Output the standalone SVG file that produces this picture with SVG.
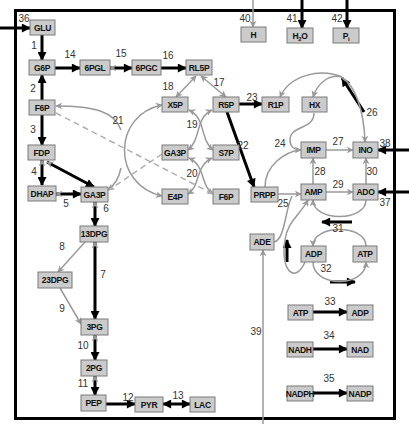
<svg xmlns="http://www.w3.org/2000/svg" width="409" height="429" viewBox="0 0 409 429">
<style>
.n rect{fill:#cbcbcb;stroke:#7a7a7a;stroke-width:1}
.n text{font-family:"Liberation Sans",Arial,sans-serif;font-weight:bold;font-size:8.5px;fill:#111;text-anchor:middle;letter-spacing:-0.3px}
.k{fill:none;stroke:#000;stroke-width:3}
.g{fill:none;stroke:#9a9a9a;stroke-width:1.5}
.d{fill:none;stroke:#b0b0b0;stroke-width:1.5;stroke-dasharray:6,4}
.l{font-family:"Liberation Sans",Arial,sans-serif;font-size:10px;fill:#333;text-anchor:middle}
</style>
<defs>
<marker id="ab" viewBox="0 0 10 10" refX="9" refY="5" markerWidth="10" markerHeight="9" markerUnits="userSpaceOnUse" orient="auto-start-reverse"><path d="M0,0 L10,5 L0,10 z" fill="#000"/></marker>
<marker id="ag" viewBox="0 0 10 10" refX="9" refY="5" markerWidth="7" markerHeight="7" markerUnits="userSpaceOnUse" orient="auto-start-reverse"><path d="M0,0 L10,5 L0,10 L3,5 z" fill="#999"/></marker>
</defs>
<rect x="15.5" y="10.5" width="379" height="408" fill="none" stroke="#000" stroke-width="3"/>
<g id="connectors">
<path class="k" d="M0,28 L30,28" marker-end="url(#ab)"/>
<path class="k" d="M42,35 L42,60" marker-end="url(#ab)"/>
<path class="k" d="M55,68 L80,68" marker-end="url(#ab)"/>
<path class="k" d="M110,68 L132,68" marker-end="url(#ab)" marker-start="url(#ag)"/>
<path class="k" d="M161,68 L186,68" marker-end="url(#ab)"/>
<path class="k" d="M42,100 L42,75" marker-end="url(#ab)"/>
<path class="k" d="M42,115 L42,145" marker-end="url(#ab)"/>
<path class="k" d="M42,160 L42,185" marker-end="url(#ab)" marker-start="url(#ag)"/>
<path class="k" d="M47,162 L94,187" marker-end="url(#ab)" marker-start="url(#ag)"/>
<path class="k" d="M56,194 L81,194" marker-end="url(#ab)" marker-start="url(#ag)"/>
<path class="k" d="M95,202 L95,226" marker-end="url(#ab)" marker-start="url(#ag)"/>
<path class="k" d="M95,242 L95,319" marker-end="url(#ab)" marker-start="url(#ag)"/>
<path class="k" d="M95,335 L95,360" marker-end="url(#ab)" marker-start="url(#ag)"/>
<path class="k" d="M95,376 L95,395" marker-end="url(#ab)" marker-start="url(#ag)"/>
<path class="k" d="M106,404 L135,404" marker-end="url(#ab)"/>
<path class="k" d="M163,404 L190,404" marker-end="url(#ab)" marker-start="url(#ab)"/>
<path class="k" d="M227,112 L254,187" marker-end="url(#ab)"/>
<path class="k" d="M239,104 L262,104" marker-end="url(#ab)"/>
<path class="k" d="M313,312 L347,312" marker-end="url(#ab)"/>
<path class="k" d="M313,349 L347,349" marker-end="url(#ab)"/>
<path class="k" d="M313,393 L347,393" marker-end="url(#ab)"/>
<path class="k" d="M302,0 L302,28" marker-end="url(#ab)"/>
<path class="k" d="M347,0 L347,28" marker-end="url(#ab)"/>
<path class="k" d="M409,192 L378,192" marker-end="url(#ab)"/>
<path class="k" d="M409,150 L378,150" marker-end="url(#ab)"/>
<path class="k" d="M364,112 L342,78" marker-end="url(#ab)"/>
<path class="k" d="M352,222 L322,222" marker-end="url(#ab)"/>
<path class="k" d="M330,282 L355,282" marker-end="url(#ab)"/>
<path class="k" d="M287,262 L287,240" marker-end="url(#ab)"/>
<path class="g" d="M253,0 L253,27" marker-end="url(#ag)"/>
<path class="g" d="M201,76 L226,97" marker-end="url(#ag)" marker-start="url(#ag)"/>
<path class="g" d="M196,76 L176,97" marker-end="url(#ag)" marker-start="url(#ag)"/>
<path class="g" d="M189,110 C206,118 200,140 213,150" marker-end="url(#ag)" marker-start="url(#ag)"/>
<path class="g" d="M212,110 C195,118 201,140 188,150" marker-end="url(#ag)" marker-start="url(#ag)"/>
<path class="g" d="M189,158 C206,166 200,185 213,194" marker-end="url(#ag)" marker-start="url(#ag)"/>
<path class="g" d="M212,158 C195,166 201,185 188,194" marker-end="url(#ag)" marker-start="url(#ag)"/>
<path class="g" d="M162,105 C112,115 112,185 162,196" marker-end="url(#ag)" marker-start="url(#ag)"/>
<path class="g" d="M56,106 C95,106 115,112 121,130" marker-start="url(#ag)"/>
<path class="g" d="M108,190 C115,185 119,178 121,168" marker-start="url(#ag)"/>
<path class="d" d="M56,113 L213,194"/>
<path class="d" d="M162,154 L109,190"/>
<path class="g" d="M85,242 L58,272" marker-end="url(#ag)"/>
<path class="g" d="M60,288 L81,324" marker-end="url(#ag)"/>
<path class="g" d="M314,113 C314,130 290,125 290,140 C290,147 295,150 301,150" marker-end="url(#ag)"/>
<path class="g" d="M265,187 C265,165 285,152 300,150"/>
<path class="g" d="M278,194 L301,194" marker-end="url(#ag)"/>
<path class="g" d="M274,242 C285,240 285,210 292,196"/>
<path class="g" d="M342,77 C320,68 290,75 280,97" marker-end="url(#ag)"/>
<path class="g" d="M342,77 C330,74 318,82 313,97" marker-end="url(#ag)"/>
<path class="g" d="M342,78 C355,85 364,110 365,142" marker-end="url(#ag)"/>
<path class="g" d="M326,150 L353,150" marker-end="url(#ag)"/>
<path class="g" d="M313,184 L313,158" marker-end="url(#ag)"/>
<path class="g" d="M326,192 L353,192" marker-end="url(#ag)"/>
<path class="g" d="M366,184 L366,158" marker-end="url(#ag)"/>
<path class="g" d="M366,200 C366,222 313,222 313,200" marker-end="url(#ag)"/>
<path class="g" d="M366,246 C366,224 313,224 313,246" marker-end="url(#ag)"/>
<path class="g" d="M313,262 C313,288 366,288 366,262" marker-end="url(#ag)"/>
<path class="g" d="M305,262 C295,285 280,270 285,240 C287,222 300,215 308,200" marker-end="url(#ag)"/>
<path class="g" d="M263,424 L263,250" marker-end="url(#ag)"/>
</g>
<g id="labels">
<text class="l" x="24" y="22">36</text>
<text class="l" x="34" y="49">1</text>
<text class="l" x="70" y="58">14</text>
<text class="l" x="121" y="57">15</text>
<text class="l" x="168" y="59">16</text>
<text class="l" x="245" y="22">40</text>
<text class="l" x="292" y="22">41</text>
<text class="l" x="337" y="22">42</text>
<text class="l" x="219" y="86">17</text>
<text class="l" x="168" y="90">18</text>
<text class="l" x="252" y="101">23</text>
<text class="l" x="372" y="116">26</text>
<text class="l" x="33" y="92">2</text>
<text class="l" x="33" y="133">3</text>
<text class="l" x="118" y="124">21</text>
<text class="l" x="192" y="128">19</text>
<text class="l" x="243" y="149">22</text>
<text class="l" x="280" y="147">24</text>
<text class="l" x="338" y="145">27</text>
<text class="l" x="385" y="147">38</text>
<text class="l" x="320" y="175">28</text>
<text class="l" x="372" y="175">30</text>
<text class="l" x="192" y="177">20</text>
<text class="l" x="34" y="175">4</text>
<text class="l" x="66" y="207">5</text>
<text class="l" x="106" y="212">6</text>
<text class="l" x="283" y="207">25</text>
<text class="l" x="338" y="188">29</text>
<text class="l" x="385" y="206">37</text>
<text class="l" x="338" y="232">31</text>
<text class="l" x="62" y="250">8</text>
<text class="l" x="326" y="272">32</text>
<text class="l" x="103" y="278">7</text>
<text class="l" x="62" y="312">9</text>
<text class="l" x="330" y="305">33</text>
<text class="l" x="256" y="335">39</text>
<text class="l" x="329" y="339">34</text>
<text class="l" x="329" y="382">35</text>
<text class="l" x="83" y="349">10</text>
<text class="l" x="83" y="387">11</text>
<text class="l" x="128" y="401">12</text>
<text class="l" x="178" y="399">13</text>
</g>
<g id="GLU" class="n"><rect x="30" y="20" width="25" height="15"/><text x="42.5" y="30.5">GLU</text></g>
<g id="G6P" class="n"><rect x="29" y="60" width="26" height="15"/><text x="42" y="70.5">G6P</text></g>
<g id="PGL6" class="n"><rect x="80" y="60" width="30" height="15"/><text x="95" y="70.5">6PGL</text></g>
<g id="PGC6" class="n"><rect x="132" y="60" width="29" height="15"/><text x="146.5" y="70.5">6PGC</text></g>
<g id="RL5P" class="n"><rect x="186" y="60" width="26" height="15"/><text x="199" y="70.5">RL5P</text></g>
<g id="H" class="n"><rect x="241" y="27" width="25" height="15"/><text x="253.5" y="37.5">H</text></g>
<g id="H2O" class="n"><rect x="287" y="28" width="26" height="15"/><text x="300" y="38.5">H<tspan font-size="6" dy="2">2</tspan><tspan dy="-2">O</tspan></text></g>
<g id="Pi" class="n"><rect x="333" y="28" width="26" height="15"/><text x="346" y="38.5">P<tspan font-size="6" dy="2">i</tspan></text></g>
<g id="X5P" class="n"><rect x="162" y="97" width="26" height="15"/><text x="175" y="107.5">X5P</text></g>
<g id="R5P" class="n"><rect x="213" y="97" width="26" height="15"/><text x="226" y="107.5">R5P</text></g>
<g id="R1P" class="n"><rect x="262" y="97" width="27" height="15"/><text x="275.5" y="107.5">R1P</text></g>
<g id="HX" class="n"><rect x="302" y="97" width="25" height="15"/><text x="314.5" y="107.5">HX</text></g>
<g id="F6P" class="n"><rect x="29" y="100" width="26" height="15"/><text x="42" y="110.5">F6P</text></g>
<g id="FDP" class="n"><rect x="28" y="145" width="27" height="15"/><text x="41.5" y="155.5">FDP</text></g>
<g id="GA3P_m" class="n"><rect x="162" y="145" width="26" height="15"/><text x="175" y="155.5">GA3P</text></g>
<g id="S7P" class="n"><rect x="213" y="145" width="26" height="15"/><text x="226" y="155.5">S7P</text></g>
<g id="IMP" class="n"><rect x="301" y="142" width="25" height="16"/><text x="313.5" y="153">IMP</text></g>
<g id="INO" class="n"><rect x="353" y="142" width="25" height="16"/><text x="365.5" y="153">INO</text></g>
<g id="DHAP" class="n"><rect x="28" y="186" width="28" height="15"/><text x="42" y="196.5">DHAP</text></g>
<g id="GA3P" class="n"><rect x="81" y="187" width="27" height="15"/><text x="94.5" y="197.5">GA3P</text></g>
<g id="E4P" class="n"><rect x="162" y="189" width="26" height="15"/><text x="175" y="199.5">E4P</text></g>
<g id="F6P_m" class="n"><rect x="213" y="189" width="26" height="15"/><text x="226" y="199.5">F6P</text></g>
<g id="PRPP" class="n"><rect x="251" y="187" width="27" height="15"/><text x="264.5" y="197.5">PRPP</text></g>
<g id="AMP" class="n"><rect x="301" y="184" width="25" height="16"/><text x="313.5" y="195">AMP</text></g>
<g id="ADO" class="n"><rect x="353" y="184" width="25" height="16"/><text x="365.5" y="195">ADO</text></g>
<g id="DPG13" class="n"><rect x="80" y="226" width="28" height="16"/><text x="94" y="237">13DPG</text></g>
<g id="ADE" class="n"><rect x="250" y="234" width="24" height="16"/><text x="262" y="245">ADE</text></g>
<g id="ADP" class="n"><rect x="301" y="246" width="25" height="16"/><text x="313.5" y="257">ADP</text></g>
<g id="ATP" class="n"><rect x="353" y="246" width="24" height="16"/><text x="365" y="257">ATP</text></g>
<g id="DPG23" class="n"><rect x="38" y="272" width="34" height="16"/><text x="55" y="283">23DPG</text></g>
<g id="ATP2" class="n"><rect x="288" y="305" width="25" height="15"/><text x="300.5" y="315.5">ATP</text></g>
<g id="ADP2" class="n"><rect x="347" y="305" width="26" height="15"/><text x="360" y="315.5">ADP</text></g>
<g id="PG3" class="n"><rect x="81" y="319" width="27" height="16"/><text x="94.5" y="330">3PG</text></g>
<g id="NADH" class="n"><rect x="287" y="342" width="26" height="15"/><text x="300" y="352.5">NADH</text></g>
<g id="NAD" class="n"><rect x="347" y="342" width="26" height="15"/><text x="360" y="352.5">NAD</text></g>
<g id="PG2" class="n"><rect x="81" y="360" width="26" height="16"/><text x="94" y="371">2PG</text></g>
<g id="NADPH" class="n"><rect x="287" y="386" width="26" height="15"/><text x="300" y="396.5">NADPH</text></g>
<g id="NADP" class="n"><rect x="347" y="386" width="26" height="15"/><text x="360" y="396.5">NADP</text></g>
<g id="PEP" class="n"><rect x="81" y="395" width="25" height="16"/><text x="93.5" y="406">PEP</text></g>
<g id="PYR" class="n"><rect x="135" y="397" width="28" height="15"/><text x="149" y="407.5">PYR</text></g>
<g id="LAC" class="n"><rect x="190" y="397" width="25" height="15"/><text x="202.5" y="407.5">LAC</text></g>
</svg>
